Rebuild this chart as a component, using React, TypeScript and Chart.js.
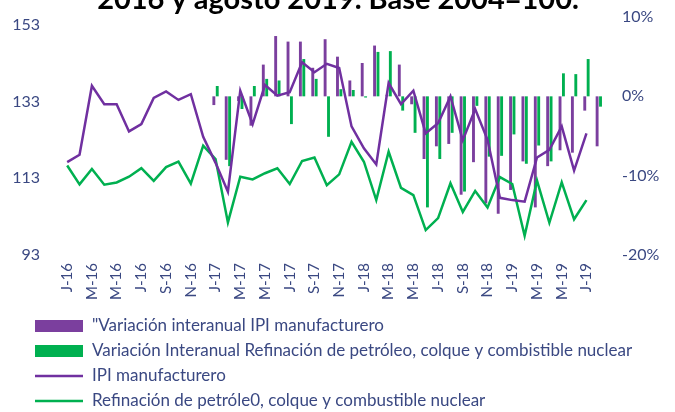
import React, { useEffect, useRef } from "react";
import { Chart, registerables } from "chart.js";

Chart.register(...registerables);

const months = [
  "J-16", "F-16", "M-16", "A-16", "M-16", "J-16", "J-16", "A-16", "S-16", "O-16", "N-16", "D-16",
  "J-17", "F-17", "M-17", "A-17", "M-17", "J-17", "J-17", "A-17", "S-17", "O-17", "N-17", "D-17",
  "J-18", "F-18", "M-18", "A-18", "M-18", "J-18", "J-18", "A-18", "S-18", "O-18", "N-18", "D-18",
  "J-19", "F-19", "M-19", "A-19", "M-19", "J-19", "J-19", "A-19",
];

const ipiManufacturero = [
  117.2, 119.1, 137.1, 132.3, 132.3, 125.2, 127.1, 133.9, 135.6, 133.4, 134.9, 123.8,
  117.0, 109.5, 135.8, 127.1, 137.3, 134.5, 135.4, 143.2, 140.6, 142.8, 141.7, 126.5,
  120.8, 116.6, 137.8, 132.3, 135.8, 124.7, 127.3, 134.3, 122.9, 131.0, 123.0, 107.9,
  107.3, 106.9, 118.4, 120.4, 126.5, 115.0, 124.7, null,
];

const refinacion = [
  116.3, 111.4, 115.4, 111.3, 111.9, 113.4, 115.6, 112.3, 115.9, 117.3, 111.6, 121.5,
  118.0, 101.5, 113.4, 112.7, 114.3, 115.6, 111.5, 117.5, 118.4, 111.2, 114.0, 122.5,
  117.3, 107.3, 119.9, 110.5, 108.6, 99.5, 102.6, 111.7, 104.2, 109.7, 105.4, 113.3,
  111.5, 98.0, 112.4, 101.4, 111.9, 102.3, 107.3, null,
];

const varIpi = [
  null, null, null, null, null, null, null, null, null, null, null, null,
  -1.1, -8.0, -0.6, -3.7, 4.0, 7.6, 6.9, 6.9, 3.6, 7.2, 5.0, 2.0,
  4.2, 6.4, 0.2, 4.0, -1.0, -7.9, -6.3, -6.0, -12.4, -8.3, -13.5, -14.8,
  -11.8, -8.2, -14.0, -8.8, -6.8, -7.1, -1.8, -6.3,
];

const varRefinacion = [
  null, null, null, null, null, null, null, null, null, null, null, null,
  1.3, -8.8, -1.6, 1.3, 2.2, 2.0, -3.5, 4.7, 2.2, -5.1, 0.9, 0.8,
  -0.15, 5.6, 5.7, -1.8, -4.6, -14.0, -7.9, -4.6, -12.0, -1.2, -7.6, -7.5,
  -4.8, -8.5, -6.2, -8.2, 2.9, 2.8, 4.7, -1.3,
];

const leftTicks = [93, 113, 133, 153];
const rightTicks = [-20, -10, 0, 10];

const TITLE = "2016 y agosto 2019. Base 2004=100.";
const seriesNames = [
  '"Variación interanual IPI manufacturero',
  "Variación Interanual Refinación de petróleo, colque y combistible nuclear",
  "IPI manufacturero",
  "Refinación de petróle0, colque y combustible nuclear",
];

const PURPLE_BAR = "#7B3F9E";
const GREEN_BAR = "#00B050";
const PURPLE_LINE = "#7030A0";
const GREEN_LINE = "#00B050";
const TEXT = "#3A4882";
const FONT = "Lato";

const overlayPlugin = {
  id: "overlay",
  afterDraw(chart: any) {
    const ctx = chart.ctx as CanvasRenderingContext2D;
    ctx.save();
    // cut-off title
    ctx.fillStyle = "#000000";
    ctx.font = `bold 29px ${FONT}`;
    ctx.textAlign = "center";
    ctx.textBaseline = "alphabetic";
    ctx.fillText(TITLE, 338, 9);

    // legend
    const rows = [326, 351, 376, 401];
    const kinds = ["box", "box", "line", "line"];
    const colors = [PURPLE_BAR, GREEN_BAR, PURPLE_LINE, GREEN_LINE];
    ctx.font = `17px ${FONT}`;
    ctx.textAlign = "left";
    ctx.textBaseline = "middle";
    rows.forEach((y, i) => {
      ctx.fillStyle = colors[i];
      if (kinds[i] === "box") {
        ctx.fillRect(35, y - 6, 48, 12);
      } else {
        ctx.strokeStyle = colors[i];
        ctx.lineWidth = 2.5;
        ctx.beginPath();
        ctx.moveTo(35, y);
        ctx.lineTo(83, y);
        ctx.stroke();
      }
      ctx.fillStyle = TEXT;
      ctx.fillText(seriesNames[i], 92, y);
    });
    ctx.restore();
  },
};

export default function App() {
  const canvasRef = useRef<HTMLCanvasElement | null>(null);

  useEffect(() => {
    if (!canvasRef.current) return;
    const chart = new Chart(canvasRef.current, {
      type: "bar",
      data: {
        labels: months,
        datasets: [
          {
            type: "line",
            label: seriesNames[2],
            data: ipiManufacturero,
            yAxisID: "y",
            borderColor: PURPLE_LINE,
            backgroundColor: PURPLE_LINE,
            borderWidth: 2.5,
            pointRadius: 0,
            tension: 0,
            order: 1,
          },
          {
            type: "line",
            label: seriesNames[3],
            data: refinacion,
            yAxisID: "y",
            borderColor: GREEN_LINE,
            backgroundColor: GREEN_LINE,
            borderWidth: 2.5,
            pointRadius: 0,
            tension: 0,
            order: 1,
          },
          {
            type: "bar",
            label: seriesNames[0],
            data: varIpi,
            yAxisID: "y2",
            backgroundColor: PURPLE_BAR,
            categoryPercentage: 0.55,
            barPercentage: 0.85,
            order: 2,
          },
          {
            type: "bar",
            label: seriesNames[1],
            data: varRefinacion,
            yAxisID: "y2",
            backgroundColor: GREEN_BAR,
            categoryPercentage: 0.55,
            barPercentage: 0.85,
            order: 2,
          },
        ],
      } as any,
      options: {
        responsive: false,
        animation: false,
        layout: { padding: { top: 17, left: 0, right: 0, bottom: 0 } },
        plugins: {
          legend: { display: false },
          tooltip: { enabled: false },
          title: { display: false },
        },
        scales: {
          x: {
            grid: { display: false, drawTicks: false },
            border: { display: false },
            ticks: {
              autoSkip: false,
              maxRotation: 90,
              minRotation: 90,
              padding: 8,
              color: TEXT,
              font: { family: FONT, size: 15 },
              callback: (_v: any, i: number) => (i % 2 === 0 ? months[i] : ""),
            },
            afterFit: (s: any) => {
              s.height = 157;
              s.paddingLeft = 0;
              s.paddingRight = 0;
            },
          },
          y: {
            position: "left",
            min: 93,
            max: 155,
            grid: { display: false, drawTicks: false },
            border: { display: false },
            ticks: {
              padding: 21,
              color: TEXT,
              font: { family: FONT, size: 16 },
            },
            afterBuildTicks: (s: any) => {
              s.ticks = leftTicks.map((v) => ({ value: v }));
            },
            afterFit: (s: any) => {
              s.width = 61;
              s.paddingTop = 0;
              s.paddingBottom = 0;
            },
          },
          y2: {
            position: "right",
            min: -20,
            max: 10,
            grid: { display: false, drawTicks: false },
            border: { display: false },
            ticks: {
              padding: 17,
              color: TEXT,
              font: { family: FONT, size: 16 },
              callback: (v: any) => `${v}%`,
            },
            afterBuildTicks: (s: any) => {
              s.ticks = rightTicks.map((v) => ({ value: v }));
            },
            afterFit: (s: any) => {
              s.width = 70;
              s.paddingTop = 0;
              s.paddingBottom = 0;
            },
          },
        },
      } as any,
      plugins: [overlayPlugin],
    });
    return () => chart.destroy();
  }, []);

  return (
    <div style={{ position: "fixed", left: 0, top: 0, width: 675, height: 412, background: "#fff" }}>
      <canvas ref={canvasRef} width={675} height={412} style={{ display: "block" }} />
    </div>
  );
}
